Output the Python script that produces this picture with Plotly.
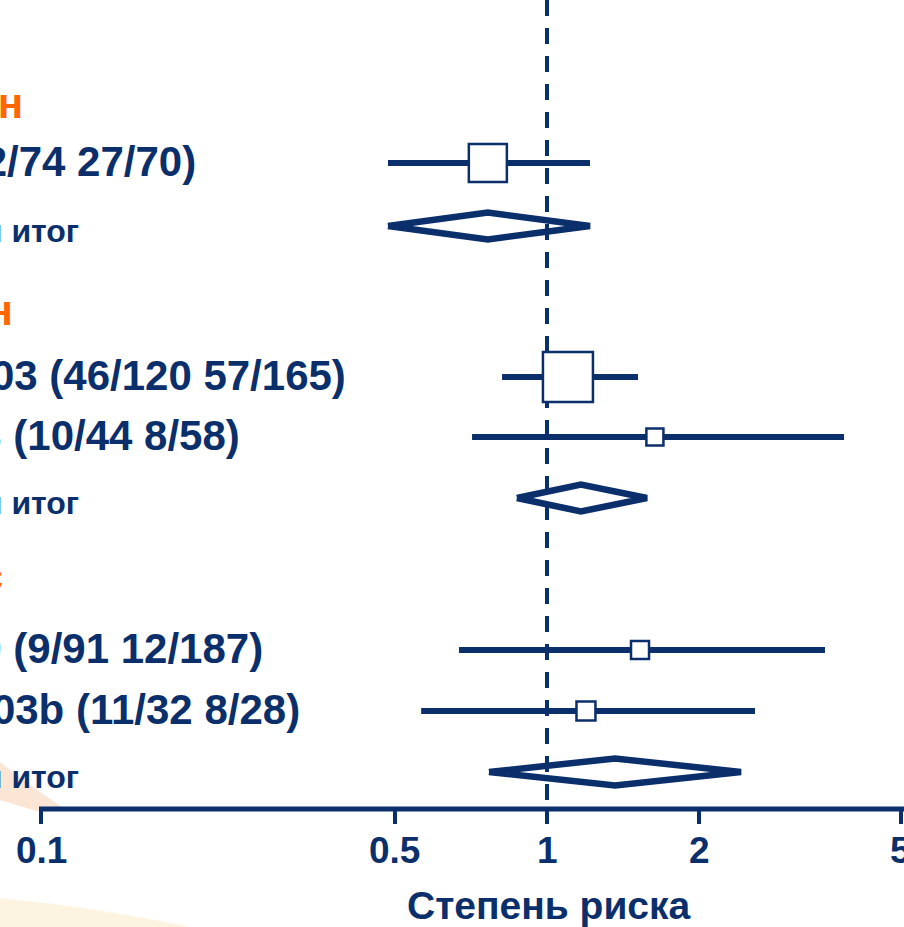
import math
import plotly.graph_objects as go

# ---------------- data ----------------
group_names = ["Цисплатин", "Карбоплатин", "Комбинированный курс"]
study_labels = [
    "Исследование 012 (22/74 27/70)",
    "Исследование 003 (46/120 57/165)",
    "Исследование 013 (10/44 8/58)",
    "Исследование 009 (9/91 12/187)",
    "Исследование 003b (11/32 8/28)",
]
study_group = [0, 1, 1, 2, 2]
study_hr = [0.764, 1.10, 1.634, 1.527, 1.194]
study_lo = [0.485, 0.815, 0.711, 0.670, 0.564]
study_hi = [1.216, 1.513, 3.864, 3.543, 2.577]
study_weight = [29.4, 50.8, 5.9, 6.6, 7.3]

subtotal_label = "Промежуточный итог"
sub_hr = [0.764, 1.167, 1.363]
sub_lo = [0.485, 0.872, 0.768]
sub_hi = [1.216, 1.576, 2.418]

tick_vals = [0.1, 0.5, 1, 2, 5]
tick_text = ["0.1", "0.5", "1", "2", "5"]
x_title = "Степень риска"

# ---------------- layout constants ----------------
W, H = 904, 927
PLOT_H = 809            # pixel row of the x axis
NAVY = "#0b2f6b"
ORANGE = "#ff6600"
FONT = "Liberation Sans, Arial, sans-serif"

HEADER_Y = [103, 310, 576]
STUDY_Y = [163, 377, 437, 650, 711]
SUB_Y = [226, 498, 772]
STUDY_TEXT_DY = -2
SUB_TEXT_DY = 5
HEADER_RIGHT = [25, 15, 5]
STUDY_RIGHT = [198, 348, 242, 265, 302]
SUB_RIGHT = 81
DIAMOND_HALF = 13.5
SIZE_K = 50 / math.sqrt(50.8)

def px(x):
    return x / W

def py(y):
    return (PLOT_H - y) / PLOT_H

fig = go.Figure()

# CI lines
for i in range(len(study_hr)):
    fig.add_trace(go.Scatter(
        x=[study_lo[i], study_hi[i]], y=[STUDY_Y[i], STUDY_Y[i]],
        mode="lines", line=dict(color=NAVY, width=6), hoverinfo="skip",
        showlegend=False))

# diamonds
for g in range(len(sub_hr)):
    yc = SUB_Y[g]
    fig.add_trace(go.Scatter(
        x=[sub_lo[g], sub_hr[g], sub_hi[g], sub_hr[g], sub_lo[g]],
        y=[yc, yc - DIAMOND_HALF, yc, yc + DIAMOND_HALF, yc],
        mode="lines", fill="toself", fillcolor="white",
        line=dict(color=NAVY, width=6.5), hoverinfo="skip", showlegend=False))

# reference dashed line at HR = 1
fig.add_trace(go.Scatter(
    x=[1, 1], y=[0, PLOT_H], mode="lines",
    line=dict(color=NAVY, width=4, dash="16px,12px"),
    hoverinfo="skip", showlegend=False))

# squares
fig.add_trace(go.Scatter(
    x=study_hr, y=STUDY_Y, mode="markers",
    marker=dict(symbol="square", color="white", opacity=1,
                size=[SIZE_K * math.sqrt(w) for w in study_weight],
                line=dict(color=NAVY, width=2.5)),
    hoverinfo="skip", showlegend=False))

annotations = []
for g, name in enumerate(group_names):
    annotations.append(dict(
        text=name, x=px(HEADER_RIGHT[g]), xref="paper", xanchor="right",
        y=HEADER_Y[g], yref="y", yanchor="middle", showarrow=False,
        font=dict(family=FONT, size=42, color=ORANGE, weight="bold")))
for i, lab in enumerate(study_labels):
    annotations.append(dict(
        text=lab, x=px(STUDY_RIGHT[i]), xref="paper", xanchor="right",
        y=STUDY_Y[i] + STUDY_TEXT_DY, yref="y", yanchor="middle", showarrow=False,
        font=dict(family=FONT, size=42, color=NAVY, weight="bold")))
for g in range(len(sub_hr)):
    annotations.append(dict(
        text=subtotal_label, x=px(SUB_RIGHT), xref="paper", xanchor="right",
        y=SUB_Y[g] + SUB_TEXT_DY, yref="y", yanchor="middle", showarrow=False,
        font=dict(family=FONT, size=32, color=NAVY, weight="bold")))
for v, t in zip(tick_vals, tick_text):
    annotations.append(dict(
        text=t, x=math.log10(v), xref="x", xanchor="center",
        y=py(850), yref="paper", yanchor="middle", showarrow=False,
        font=dict(family=FONT, size=37, color=NAVY, weight="bold")))
annotations.append(dict(
    text=x_title, x=px(549), xref="paper", xanchor="center",
    y=py(905), yref="paper", yanchor="middle", showarrow=False,
    font=dict(family=FONT, size=39, color=NAVY, weight="bold")))

shapes = [
    # faint decorative swooshes of the slide background
    dict(type="path", xref="paper", yref="paper", layer="below",
         path=f"M 0 {py(762)} Q {px(30)} {py(786)} {px(62)} {py(807)} "
              f"L {px(40)} {py(812)} Q {px(20)} {py(806)} 0 {py(800)} Z",
         fillcolor="#f8d4b8", line=dict(width=0), opacity=0.6),
    dict(type="path", xref="paper", yref="paper", layer="below",
         path=f"M 0 {py(898)} Q {px(100)} {py(908)} {px(190)} {py(927)} "
              f"L 0 {py(927)} Z",
         fillcolor="#fdf0da", line=dict(width=0), opacity=0.8),
    # x axis line, starting at 0.1
    dict(type="line", xref="paper", yref="paper", layer="above",
         x0=px(39), x1=1.0, y0=0, y1=0,
         line=dict(color=NAVY, width=5)),
]

fig.update_layout(
    width=W, height=H,
    margin=dict(l=0, r=0, t=0, b=H - PLOT_H, pad=0),
    paper_bgcolor="white", plot_bgcolor="rgba(0,0,0,0)",
    showlegend=False,
    xaxis=dict(type="log",
               range=[-1 - 41 / 506, (W - 547) / 506],
               tickvals=tick_vals,
               ticks="outside", ticklen=14, tickwidth=4, tickcolor=NAVY,
               showticklabels=False,
               showline=False, showgrid=False, zeroline=False),
    yaxis=dict(range=[PLOT_H, 0], visible=False, showgrid=False, zeroline=False),
    annotations=annotations,
    shapes=shapes,
)

fig.write_html("out.html", config={"displayModeBar": False},
               post_script="document.body.style.margin='0';document.body.style.padding='0';")
